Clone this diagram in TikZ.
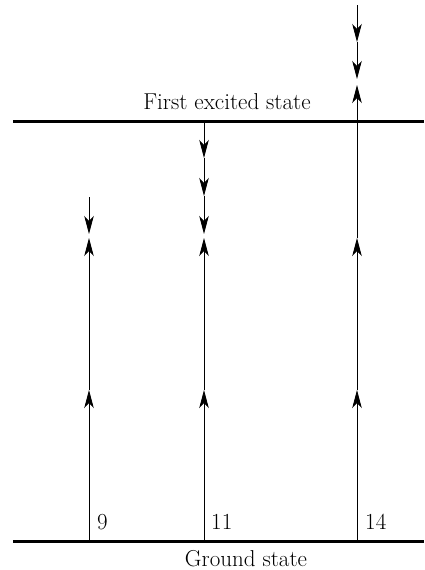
\documentclass[tikz,border=0pt]{standalone}
\usetikzlibrary{arrows.meta}
\begin{document}
\begin{tikzpicture}[x=1pt,y=-1pt,
  level/.style={line width=3pt},
  trans/.style={line width=0.8pt,-{Stealth[length=18pt,width=9.5pt,inset=5pt]}},
  lbl/.style={font=\fontsize{23}{27}\selectfont, inner sep=0pt}]
\useasboundingbox (0,0) rectangle (424,570);
% level lines
\coordinate (gl) at (13,541); \coordinate (gr) at (424,541);
\coordinate (el) at (13,121); \coordinate (er) at (424,121);
\draw[level] (gl) -- (gr);
\draw[level] (el) -- (er);
\node[lbl, anchor=base] (gs) at (246,566) {Ground state};
\node[lbl, anchor=base] (fes) at (227,109) {First excited state};
% column 9
\coordinate (a0) at (89,541); \coordinate (a1) at (89,390); \coordinate (a2) at (89,238);
\coordinate (ad0) at (89,197); \coordinate (ad1) at (89,234);
\draw[trans] (a0) -- (a1);
\draw[trans] (a1) -- (a2);
\draw[trans] (ad0) -- (ad1);
\node[lbl, anchor=base west] (n9) at (97,529) {9};
% column 11
\coordinate (b0) at (204,541); \coordinate (b1) at (204,390); \coordinate (b2) at (204,238);
\coordinate (bd0) at (204,121); \coordinate (bd1) at (204,158); \coordinate (bd2) at (204,196); \coordinate (bd3) at (204,234);
\draw[trans] (b0) -- (b1);
\draw[trans] (b1) -- (b2);
\draw[trans] (bd0) -- (bd1);
\draw[trans] (bd1) -- (bd2);
\draw[trans] (bd2) -- (bd3);
\node[lbl, anchor=base west] (n11) at (211,529) {11};
% column 14
\coordinate (c0) at (357,541); \coordinate (c1) at (357,390); \coordinate (c2) at (357,238); \coordinate (c3) at (357,85);
\coordinate (cd0) at (357,5); \coordinate (cd1) at (357,42); \coordinate (cd2) at (357,79);
\draw[trans] (c0) -- (c1);
\draw[trans] (c1) -- (c2);
\draw[trans] (c2) -- (c3);
\draw[trans] (cd0) -- (cd1);
\draw[trans] (cd1) -- (cd2);
\node[lbl, anchor=base west] (n14) at (365,529) {14};
\end{tikzpicture}
\end{document}
